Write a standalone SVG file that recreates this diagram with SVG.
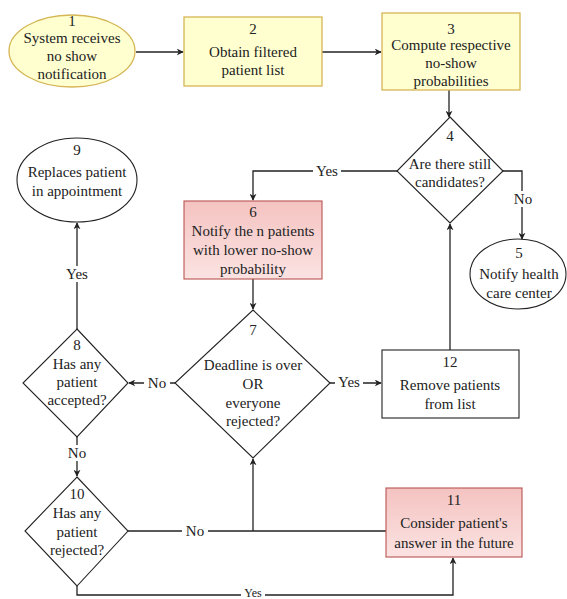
<svg xmlns="http://www.w3.org/2000/svg" width="567" height="599" viewBox="0 0 567 599">
<style>
text{font-size:15px;fill:#222;text-anchor:middle}
.y{fill:#ffffd0;stroke:#d6b656;stroke-width:1.3}
.w{fill:#fff;stroke:#222;stroke-width:1.1}
.r{fill:url(#pg);stroke:#b85450;stroke-width:1.1}
.e{fill:none;stroke:#222;stroke-width:1.3}
.lb{fill:#fff}
</style>
<defs>
<linearGradient id="pg" x1="0" y1="0" x2="0" y2="1"><stop offset="0" stop-color="#f4c3c1"/><stop offset="1" stop-color="#fbe3e2"/></linearGradient>
<marker id="a" viewBox="0 0 10 10" refX="9" refY="5" markerWidth="7" markerHeight="7" orient="auto" markerUnits="userSpaceOnUse"><path d="M0,0 L10,5 L0,10 L3,5 Z" fill="#222"/></marker>
</defs>
<g font-family="Liberation Serif, Times New Roman, DejaVu Serif, serif">
<g id="connectors">
<path class="e" d="M136,52 H183" marker-end="url(#a)"/>
<path class="e" d="M322,52 H381" marker-end="url(#a)"/>
<path class="e" d="M449,90 V117" marker-end="url(#a)"/>
<path class="e" d="M397,171 H253 V200" marker-end="url(#a)"/>
<rect class="lb" x="313" y="163" width="28" height="16"/><text x="327" y="176">Yes</text>
<path class="e" d="M503,171 H522 V239" marker-end="url(#a)"/>
<rect class="lb" x="511" y="191" width="24" height="16"/><text x="523" y="204">No</text>
<path class="e" d="M253,279 V309" marker-end="url(#a)"/>
<path class="e" d="M175,383 H129" marker-end="url(#a)"/>
<rect class="lb" x="144" y="375" width="26" height="16"/><text x="157" y="388">No</text>
<path class="e" d="M330,383 H381" marker-end="url(#a)"/>
<rect class="lb" x="335" y="375" width="28" height="16"/><text x="349" y="387">Yes</text>
<path class="e" d="M450,350 V224" marker-end="url(#a)"/>
<path class="e" d="M77,329 V223" marker-end="url(#a)"/>
<rect class="lb" x="63" y="266" width="28" height="16"/><text x="77" y="279">Yes</text>
<path class="e" d="M77,437 V476" marker-end="url(#a)"/>
<rect class="lb" x="65" y="445" width="24" height="16"/><text x="77" y="458">No</text>
<path class="e" d="M128,531 H386"/>
<path class="e" d="M253,531 V459" marker-end="url(#a)"/>
<rect class="lb" x="182" y="523" width="26" height="16"/><text x="195" y="536">No</text>
<path class="e" d="M77,586 V595 H453 V558" marker-end="url(#a)"/>
<rect class="lb" x="241" y="589" width="24" height="10"/><text x="253" y="597" style="font-size:12px">Yes</text>
</g>
<g id="n1"><ellipse class="y" cx="72" cy="51" rx="63" ry="36"/><text x="72" y="26">1</text><text x="72" y="43">System receives</text><text x="72" y="61">no show</text><text x="72" y="79">notification</text></g>
<g id="n2"><rect class="y" x="184" y="17" width="138" height="69"/><text x="253" y="34">2</text><text x="253" y="57">Obtain filtered</text><text x="253" y="75">patient list</text></g>
<g id="n3"><rect class="y" x="382" y="13" width="138" height="77"/><text x="451" y="34">3</text><text x="451" y="50">Compute respective</text><text x="451" y="68">no-show</text><text x="451" y="86">probabilities</text></g>
<g id="n4"><path class="w" d="M450,117 L503,171 L450,223 L397,171 Z"/><text x="450" y="141">4</text><text x="450" y="169">Are there still</text><text x="450" y="187">candidates?</text></g>
<g id="n5"><ellipse class="w" cx="518" cy="274" rx="48" ry="35"/><text x="519" y="258">5</text><text x="519" y="279">Notify health</text><text x="519" y="298">care center</text></g>
<g id="n6"><rect class="r" x="184" y="201" width="138" height="78"/><text x="253" y="217">6</text><text x="253" y="236">Notify the n patients</text><text x="253" y="255">with lower no-show</text><text x="253" y="274">probability</text></g>
<g id="n7"><path class="w" d="M253,310 L330,383 L253,458 L175,383 Z"/><text x="253" y="335">7</text><text x="253" y="370">Deadline is over</text><text x="253" y="389">OR</text><text x="253" y="408">everyone</text><text x="253" y="426">rejected?</text></g>
<g id="n8"><path class="w" d="M77,329 L128,383 L77,437 L23,383 Z"/><text x="77" y="350">8</text><text x="77" y="369">Has any</text><text x="77" y="387">patient</text><text x="77" y="405">accepted?</text></g>
<g id="n9"><ellipse class="w" cx="77" cy="180" rx="60" ry="42"/><text x="77" y="155">9</text><text x="77" y="177">Replaces patient</text><text x="77" y="196">in appointment</text></g>
<g id="n10"><path class="w" d="M77,477 L128,531 L77,586 L25,531 Z"/><text x="77" y="499">10</text><text x="77" y="518">Has any</text><text x="77" y="537">patient</text><text x="77" y="555">rejected?</text></g>
<g id="n11"><rect class="r" x="386" y="488" width="136" height="69"/><text x="454" y="505">11</text><text x="454" y="528">Consider patient's</text><text x="454" y="548">answer in the future</text></g>
<g id="n12"><rect class="w" x="382" y="350" width="137" height="68"/><text x="450" y="367">12</text><text x="450" y="390">Remove patients</text><text x="450" y="409">from list</text></g>
</g>
</svg>
